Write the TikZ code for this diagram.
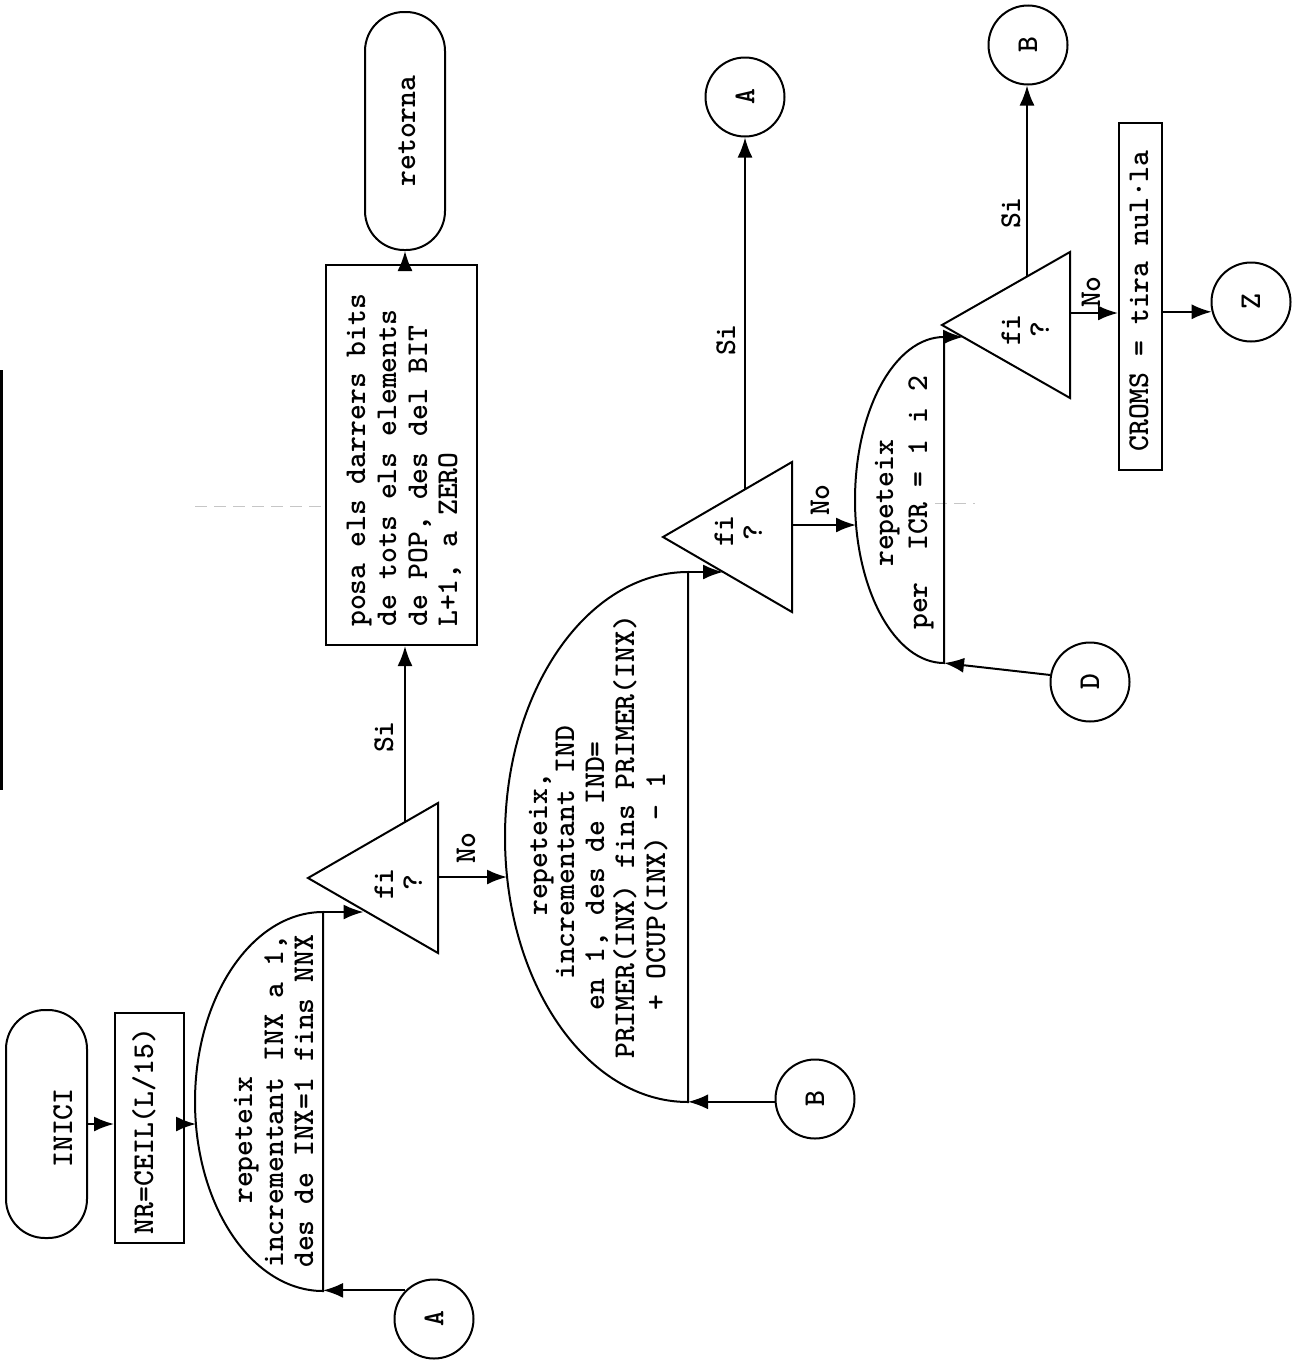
\documentclass[tikz,border=0pt]{standalone}
\usetikzlibrary{arrows.meta,calc}
\newcommand\tw{\fontsize{30.2}{30.5}\selectfont\ttfamily\bfseries}
\newcommand\rl[1]{\rotatebox{90}{#1}}
\begin{document}
\begin{tikzpicture}[x=1pt,y=-1pt,
  ln/.style={line width=2pt},
  arr/.style={line width=2pt,-{Latex[length=20pt,width=15pt]}},
  txt/.style={rotate=90,inner sep=0pt,font=\tw},
  term/.style={draw,line width=2pt,rounded corners=39pt,inner sep=0pt},
  box/.style={draw,line width=2pt,inner sep=0pt},
  conn/.style={draw,circle,line width=2pt,inner sep=0pt,minimum size=79pt,font=\tw},
  faint/.style={gray!45,line width=1pt,dash pattern=on 12pt off 7pt}]
\useasboundingbox (0,0) rectangle (1299,1360);

% scan edge
\draw[line width=2.4pt] (1.5,370) -- (1.5,790);
\draw[faint] (195,506) -- (325,506);
\draw[faint] (935,503) -- (975,503);

% ---------- start ----------
\node[term,minimum width=81pt,minimum height=228pt] (inici) at (46.5,1124) {};
\node[txt,anchor=base] (iniciT) at (72,1128) {INICI};
\node[box,minimum width=69pt,minimum height=230pt] (nr) at (149.5,1128) {};
\node[txt,anchor=base] (nrT) at (153,1131) {NR=CEIL(L/15)};
\draw[arr] (inici.east) -- (inici.east -| nr.west);

% ---------- loop 1 ----------
\draw[ln] (323,912) coordinate (l1t)
  arc[start angle=90,end angle=270,x radius=128pt,y radius=189.5pt] coordinate (l1b) -- cycle;
\coordinate (l1in) at (196,1124);
\node[txt,anchor=base west] (l1a) at (252,1204) {repeteix};
\node[txt,anchor=base west] (l1bT) at (283,1268) {incrementant INX a 1,};
\node[txt,anchor=base west] (l1c) at (313,1268) {des de INX=1 fins NNX};
\draw[arr] (nr.east |- l1in) -- (l1in);
\node[conn] (a1) at (434,1319) {\rl{A}};
\draw[arr] (a1.135) -- (a1.135 -| l1b);

% ---------- decision 1 ----------
\draw[ln] (308,878) coordinate (t1a) -- (438,803) coordinate (t1b) -- (438,953) coordinate (t1c) -- cycle;
\node[txt,anchor=base] (t1f) at (393,884) {fi};
\node[txt,anchor=base] (t1q) at (422,883) {?};
\coordinate (t1in) at (363.5,912);
\draw[arr] (l1t) -- (t1in);
\coordinate (t1si) at (405,822);
\coordinate (t1no) at (438,877);

% ---------- box + return ----------
\node[box,minimum width=151pt,minimum height=380pt] (posa) at (401.5,455) {};
\node[txt,anchor=base west] (p1) at (365,627) {posa els darrers bits};
\node[txt,anchor=base west] (p2) at (396,627) {de tots els elements};
\node[txt,anchor=base west] (p3) at (427,627) {de POP, des del BIT};
\node[txt,anchor=base west] (p4) at (457,627) {L+1, a ZERO};
\node[term,minimum width=80pt,minimum height=238pt] (ret) at (405,131) {};
\node[txt,anchor=base] (retT) at (415,131) {retorna};
\draw[arr] (t1si) -- (t1si |- posa.south);
\node[txt,anchor=base] (si1) at (393,737) {Si};
\draw[arr] (ret.south |- posa.north) -- (ret.south);

% ---------- loop 2 ----------
\draw[ln] (688,572) coordinate (l2t)
  arc[start angle=90,end angle=270,x radius=183pt,y radius=265pt] coordinate (l2b) -- cycle;
\coordinate (l2in) at (507,877);
\draw[arr] (t1no) -- (l2in);
\node[txt,anchor=base] (no1) at (475,848) {No};
\node[txt,anchor=base west] (l2a) at (547,916) {repeteix,};
\node[txt,anchor=base west] (l2bT) at (574,980) {incrementant IND};
\node[txt,anchor=base west] (l2c) at (604,1011) {en 1, des de IND=};
\node[txt,anchor=base west] (l2d) at (634,1059) {PRIMER(INX) fins PRIMER(INX)};
\node[txt,anchor=base west] (l2e) at (665,1011) {+ OCUP(INX) - 1};
\node[conn] (b1) at (815,1099) {\rl{B}};
\draw[arr] (b1.184) -- (b1.184 -| l2b);

% ---------- decision 2 ----------
\draw[ln] (663,537) coordinate (t2a) -- (792,462) coordinate (t2b) -- (792,612) coordinate (t2c) -- cycle;
\node[txt,anchor=base] (t2f) at (733,531) {fi};
\node[txt,anchor=base] (t2q) at (762,533) {?};
\coordinate (t2in) at (723,572);
\draw[arr] (l2t) -- (t2in);
\coordinate (t2si) at (745,489.3);
\node[conn] (a2) at (745,97) {\rl{A}};
\draw[arr] (t2si) -- (t2si |- a2.south);
\node[txt,anchor=base] (si2) at (735,340) {Si};
\coordinate (t2no) at (792,525);

% ---------- loop 3 ----------
\draw[ln] (944,337) coordinate (l3t)
  arc[start angle=90,end angle=270,x radius=89pt,y radius=163pt] coordinate (l3b) -- cycle;
\coordinate (l3in) at (856,525);
\draw[arr] (t2no) -- (l3in);
\node[txt,anchor=base] (no2) at (829,500) {No};
\node[txt,anchor=base west] (l3a) at (893,567) {repeteix};
\node[txt,anchor=base west] (l3bT) at (927,630) {per\ \ ICR = 1 i 2};
\node[conn] (d) at (1090,682) {\rl{D}};
\draw[arr] (d.170) -- (l3b);

% ---------- decision 3 ----------
\draw[ln] (942,325) coordinate (t3a) -- (1070,252) coordinate (t3b) -- (1070,398) coordinate (t3c) -- cycle;
\node[txt,anchor=base] (t3f) at (1020,330) {fi};
\node[txt,anchor=base] (t3q) at (1049,330) {?};
\coordinate (t3in) at (963,337);
\draw[arr] (l3t) -- (t3in);
\coordinate (t3si) at (1027,276.5);
\node[conn] (b2) at (1028,45) {\rl{B}};
\draw[arr] (t3si) -- (t3si |- b2.south);
\node[txt,anchor=base] (si3) at (1020,213) {Si};
\coordinate (t3no) at (1070,313);
\node[box,minimum width=43pt,minimum height=347pt] (croms) at (1140.5,296.5) {};
\node[txt,anchor=base] (cromsT) at (1148,301) {CROMS = tira nul·la};
\draw[arr] (t3no) -- (t3no -| croms.west);
\node[txt,anchor=base] (no3) at (1100,292) {No};
\node[conn] (z) at (1251,302) {\rl{Z}};
\draw[arr] (croms.east |- z.194) -- (z.194);
\end{tikzpicture}
\end{document}
